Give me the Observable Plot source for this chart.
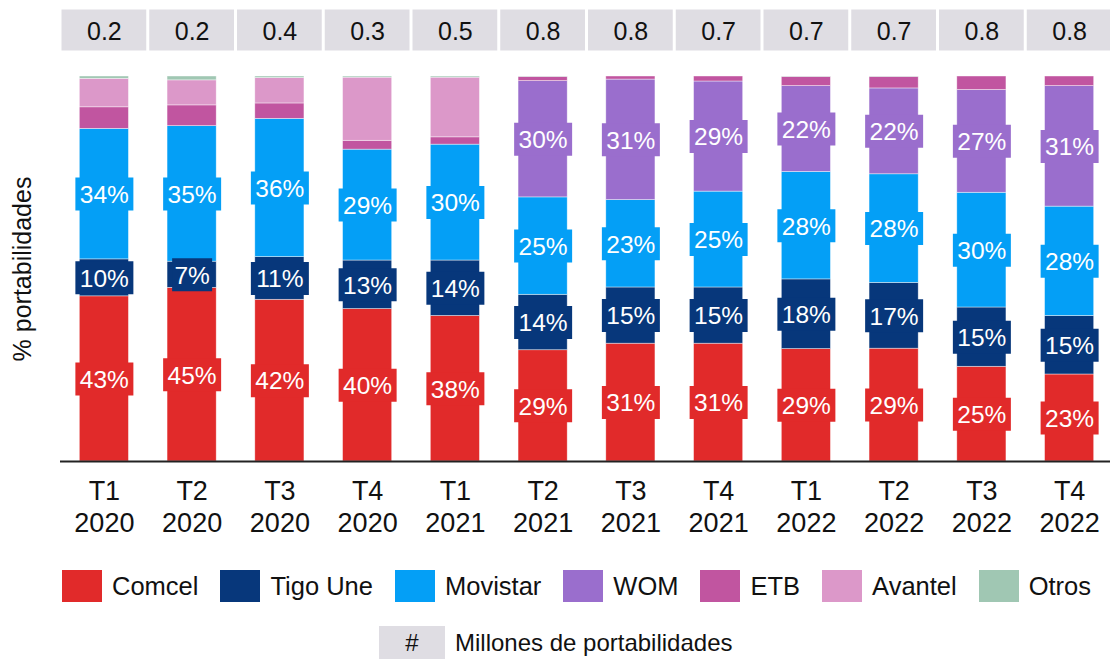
<!DOCTYPE html>
<html>
<head>
<meta charset="utf-8">
<script src="https://cdn.jsdelivr.net/npm/d3@7"></script>
<script src="https://cdn.jsdelivr.net/npm/@observablehq/plot@0.6"></script>
<style>
  html, body { margin: 0; padding: 0; background: #fff; overflow: hidden; }
  body { font-family: "Liberation Sans", Arial, sans-serif; color: #111; }
  #wrap { position: relative; width: 1110px; height: 659px; overflow: hidden; }
  #topRow, #mainChart { position: absolute; left: 0; width: 1113px; }
  #topRow { top: 0; }
  #mainChart { top: 56px; }
  #legend { position: absolute; left: 62px; top: 570px; display: flex; align-items: center; gap: 22px; font-size: 25.5px; white-space: nowrap; }
  .item { display: flex; align-items: center; gap: 10px; }
  .sw { width: 40px; height: 32px; display: inline-block; }
  #note { position: absolute; left: 379px; top: 626px; display: flex; align-items: center; gap: 10px; font-size: 24px; white-space: nowrap; }
  #note .box { width: 66px; height: 34px; background: #dfdde3; display: flex; align-items: center; justify-content: center; }
</style>
</head>
<body>
<div id="wrap">
  <div id="topRow"></div>
  <div id="mainChart"></div>
  <div id="legend"></div>
  <div id="note"></div>
</div>
<script>
// ---- data ----
const periods = ["T1\n2020","T2\n2020","T3\n2020","T4\n2020","T1\n2021","T2\n2021","T3\n2021","T4\n2021","T1\n2022","T2\n2022","T3\n2022","T4\n2022"];
const millones = [0.2, 0.2, 0.4, 0.3, 0.5, 0.8, 0.8, 0.7, 0.7, 0.7, 0.8, 0.8];
const companies = ["Comcel", "Tigo Une", "Movistar", "WOM", "ETB", "Avantel", "Otros"];
const colors = ["#e12a2a", "#07377b", "#049ff6", "#9a6ecd", "#c155a0", "#dc98c9", "#a0c7b3"];
const comcel   = [42.9, 45.1, 42.0, 39.6, 37.8, 28.9, 30.6, 30.6, 29.2, 29.3, 24.6, 22.6];
const tigoUne  = [ 9.6,  6.8, 11.1, 12.6, 14.4, 14.4, 14.6, 14.6, 18.1, 17.1, 15.4, 15.2];
const movistar = [33.9, 35.2, 35.9, 28.8, 30.1, 25.3, 22.7, 24.9, 27.9, 28.2, 29.8, 28.4];
const wom      = [ 0,    0,    0,    0,    0,   30.2, 31.3, 28.6, 22.3, 22.3, 26.7, 31.3];
const etb      = [ 5.6,  5.4,  4.0,  2.3,  1.9,  1.1,  0.8,  1.3,  2.4,  3.0,  3.5,  2.5];
const avantel  = [ 7.4,  6.5,  6.6, 16.4, 15.5,  0,    0,    0,    0,    0,    0,    0  ];
const otros    = [ 0.6,  1.0,  0.4,  0.3,  0.3,  0.1,  0,    0,    0.1,  0.1,  0,    0  ];
const labeled = ["Comcel", "Tigo Une", "Movistar", "WOM"];
const yLabel = "% portabilidades";
const noteText = "Millones de portabilidades";

const series = [comcel, tigoUne, movistar, wom, etb, avantel, otros];
const data = [];
periods.forEach((p, i) => {
  companies.forEach((c, k) => data.push({period: p, company: c, value: series[k][i]}));
});
const labelData = data.filter(d => labeled.includes(d.company) && d.value > 0);

// ---- label background symbols ----
const rectSym = (w, h) => ({
  draw(ctx) {
    ctx.moveTo(-w / 2, -h / 2); ctx.lineTo(w / 2, -h / 2);
    ctx.lineTo(w / 2, h / 2); ctx.lineTo(-w / 2, h / 2); ctx.closePath();
  }
});
const wideBox = rectSym(58, 33);
const narrowBox = rectSym(40, 33);
const fmt = d => Math.round(d.value) + "%";

const W = 1113, ML = 60, MR = 0;
const font = "'Liberation Sans', Arial, sans-serif";

// ---- top row: millions of portabilities ----
const topPlot = Plot.plot({
  width: W, height: 56, marginLeft: ML, marginRight: MR, marginTop: 8, marginBottom: 4,
  style: {fontFamily: font, background: "transparent", maxWidth: "none", overflow: "visible"},
  x: {domain: periods, padding: 0, round: false, axis: null},
  y: {axis: null},
  marks: [
    Plot.cell(millones, {x: periods, fill: "#dfdde3", inset: 1.5}),
    Plot.text(millones, {x: periods, text: d => d.toFixed(1), fontSize: 25, fill: "#111", dy: 1})
  ]
});
document.getElementById("topRow").appendChild(topPlot);

// ---- main stacked chart ----
const mainPlot = Plot.plot({
  width: W, height: 495, marginLeft: ML, marginRight: MR, marginTop: 20, marginBottom: 90,
  style: {fontFamily: font, background: "transparent", color: "#111", maxWidth: "none", overflow: "visible"},
  x: {domain: periods, paddingInner: 0.44, paddingOuter: 0.22, round: false, axis: null},
  y: {domain: [0, 100], axis: null},
  color: {domain: companies, range: colors},
  marks: [
    Plot.barY(data, {x: "period", y: "value", fill: "company", stroke: "#fff", strokeWidth: 0.7, strokeOpacity: 0.6}),
    Plot.dot(labelData, Plot.stackY({
      x: "period", y: "value", fill: "company", r: 1,
      symbol: d => fmt(d).length > 2 ? wideBox : narrowBox
    })),
    Plot.text(labelData, Plot.stackY({
      x: "period", y: "value", z: "company", text: fmt, fill: "white", fontSize: 24.5, dy: 1
    })),
    Plot.ruleY([0], {stroke: "#222", strokeWidth: 2}),
    Plot.axisX({tickSize: 0, tickPadding: 15, fontSize: 27, lineHeight: 1.2, label: null, fill: "#111"}),
    Plot.text([yLabel], {frameAnchor: "left", textAnchor: "middle", rotate: -90, dx: -38, fontSize: 25, fill: "#111"})
  ]
});
document.getElementById("mainChart").appendChild(mainPlot);

// ---- legend ----
const legend = document.getElementById("legend");
companies.forEach((c, k) => {
  const it = document.createElement("div");
  it.className = "item";
  const sw = document.createElement("span");
  sw.className = "sw";
  sw.style.background = colors[k];
  const t = document.createElement("span");
  t.textContent = c;
  it.appendChild(sw); it.appendChild(t);
  legend.appendChild(it);
});
const note = document.getElementById("note");
note.innerHTML = '<div class="box">#</div><span></span>';
note.querySelector("span").textContent = noteText;
</script>
</body>
</html>
